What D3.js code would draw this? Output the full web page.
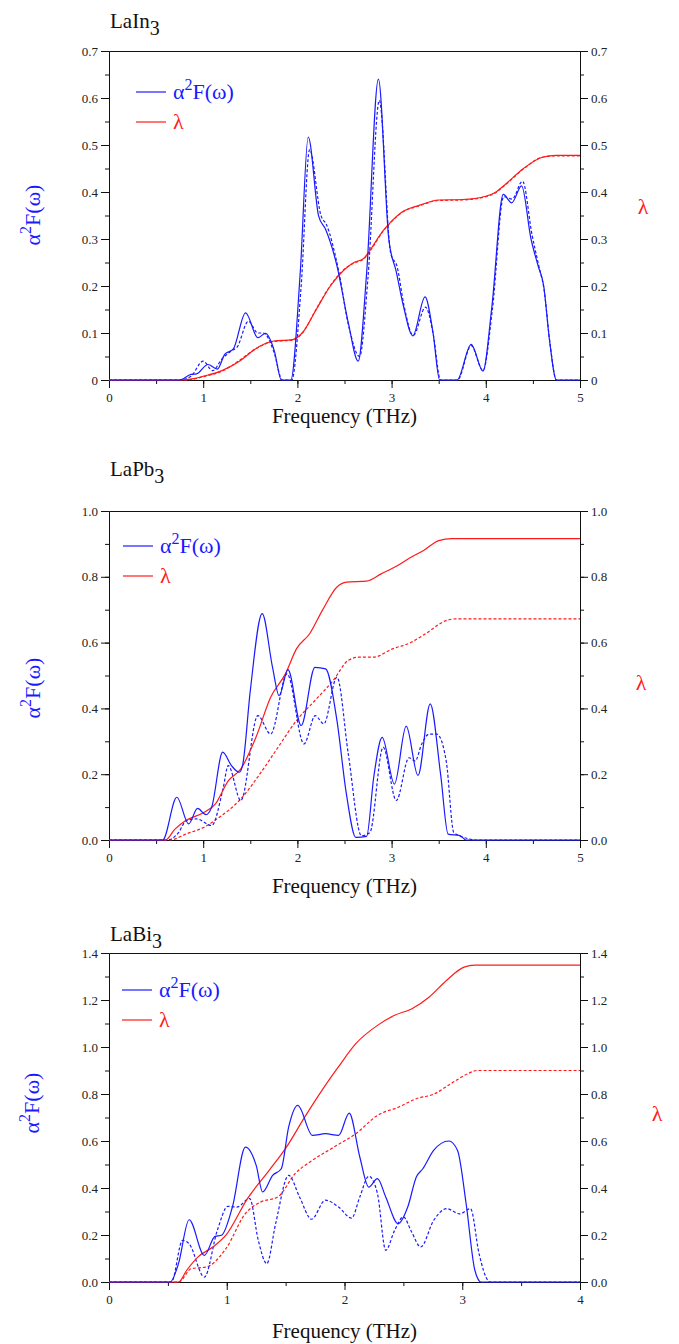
<!DOCTYPE html>
<html>
<head>
<meta charset="utf-8">
<script src="https://cdn.jsdelivr.net/npm/d3@7"></script>
<style>
  body { margin: 0; background: #fff; }
  svg, svg text { font-family: "Liberation Serif", "DejaVu Serif", serif !important; }
  .axis path, .axis line { stroke: #111; }
  .axis text { fill: #222; }
</style>
</head>
<body>
<div id="chart-area"></div>
<script>
// ---- data (frequency THz, value) ----
// LaIn3
const inA2F = [[0,0],[0.75,0],[0.87,0.012],[0.93,0.013],[1.05,0.033],[1.15,0.023],[1.23,0.055],[1.32,0.066],[1.45,0.143],[1.58,0.09],[1.66,0.099],[1.755,0.062],[1.83,0],[1.93,0],[2.03,0.228],[2.115,0.517],[2.225,0.349],[2.30,0.32],[2.42,0.243],[2.54,0.122],[2.645,0.04],[2.735,0.228],[2.86,0.64],[2.97,0.30],[3.05,0.23],[3.125,0.158],[3.225,0.094],[3.355,0.177],[3.44,0.10],[3.51,0],[3.695,0],[3.845,0.076],[3.97,0.019],[4.065,0.157],[4.185,0.395],[4.275,0.377],[4.38,0.413],[4.48,0.30],[4.555,0.243],[4.615,0.2],[4.675,0.087],[4.75,0],[5,0]];
const inA2Fd = [[0,0],[0.76,0],[0.87,0.008],[1.0,0.04],[1.1,0.02],[1.2,0.045],[1.3,0.062],[1.36,0.07],[1.48,0.125],[1.58,0.1],[1.64,0.1],[1.75,0.06],[1.84,0],[1.94,0],[2.04,0.2],[2.13,0.49],[2.25,0.35],[2.31,0.33],[2.43,0.24],[2.55,0.11],[2.66,0.05],[2.75,0.22],[2.87,0.595],[2.99,0.27],[3.06,0.24],[3.13,0.16],[3.23,0.095],[3.36,0.155],[3.44,0.1],[3.52,0],[3.70,0],[3.845,0.073],[3.97,0.02],[4.07,0.15],[4.19,0.39],[4.28,0.385],[4.39,0.423],[4.49,0.31],[4.56,0.245],[4.62,0.19],[4.68,0.08],[4.75,0],[5,0]];
const inLam = [[0,0],[0.75,0],[0.9,0.003],[1.0,0.008],[1.2,0.02],[1.4,0.042],[1.5,0.058],[1.6,0.072],[1.75,0.083],[1.95,0.086],[2.05,0.1],[2.2,0.15],[2.35,0.2],[2.5,0.235],[2.6,0.25],[2.7,0.258],[2.8,0.285],[2.9,0.315],[3.0,0.338],[3.1,0.356],[3.3,0.372],[3.5,0.383],[3.75,0.384],[4.0,0.391],[4.1,0.399],[4.2,0.415],[4.4,0.45],[4.6,0.474],[4.75,0.478],[5,0.478]];
const inLamD = [[0,0],[0.76,0],[0.9,0.002],[1.0,0.007],[1.2,0.019],[1.4,0.044],[1.5,0.059],[1.6,0.071],[1.75,0.082],[1.95,0.085],[2.05,0.099],[2.2,0.151],[2.35,0.201],[2.5,0.236],[2.6,0.249],[2.7,0.257],[2.8,0.283],[2.9,0.314],[3.0,0.337],[3.1,0.355],[3.3,0.371],[3.5,0.382],[3.75,0.383],[4.0,0.39],[4.1,0.398],[4.2,0.414],[4.4,0.449],[4.6,0.474],[4.75,0.477],[5,0.477]];

// LaPb3
const pbA2F = [[0,0],[0.57,0],[0.72,0.13],[0.846,0.049],[0.94,0.096],[1.03,0.077],[1.09,0.1],[1.207,0.267],[1.30,0.226],[1.383,0.206],[1.42,0.23],[1.50,0.454],[1.626,0.688],[1.736,0.525],[1.806,0.439],[1.90,0.518],[2.04,0.348],[2.186,0.525],[2.30,0.52],[2.42,0.363],[2.52,0.14],[2.62,0.008],[2.735,0.011],[2.81,0.19],[2.90,0.312],[3.03,0.17],[3.155,0.346],[3.28,0.196],[3.41,0.414],[3.52,0.2],[3.60,0.018],[3.73,0.013],[3.79,0],[5,0]];
const pbA2Fd = [[0,0],[0.62,0],[0.74,0.023],[0.82,0.059],[0.93,0.064],[1.09,0.044],[1.21,0.155],[1.266,0.226],[1.40,0.12],[1.58,0.378],[1.716,0.322],[1.89,0.505],[2.07,0.292],[2.19,0.378],[2.28,0.353],[2.42,0.495],[2.54,0.262],[2.68,0.013],[2.77,0.023],[2.91,0.282],[3.05,0.12],[3.185,0.25],[3.25,0.24],[3.32,0.292],[3.40,0.322],[3.48,0.322],[3.58,0.24],[3.66,0.023],[3.83,0.003],[3.89,0],[5,0]];
const pbLam = [[0,0],[0.6,0],[0.70,0.033],[0.815,0.059],[1.01,0.084],[1.13,0.11],[1.266,0.18],[1.40,0.216],[1.56,0.312],[1.716,0.434],[1.873,0.505],[1.99,0.581],[2.13,0.627],[2.265,0.698],[2.42,0.769],[2.52,0.784],[2.735,0.787],[2.89,0.809],[3.05,0.832],[3.21,0.86],[3.34,0.88],[3.50,0.91],[3.64,0.916],[5,0.916]];
const pbLamD = [[0,0],[0.65,0],[0.815,0.018],[1.01,0.039],[1.17,0.069],[1.40,0.125],[1.60,0.2],[1.795,0.282],[1.99,0.363],[2.186,0.424],[2.38,0.485],[2.54,0.546],[2.66,0.556],[2.81,0.556],[3.01,0.581],[3.21,0.601],[3.36,0.627],[3.60,0.669],[3.68,0.672],[5,0.672]];

// LaBi3
const biA2F = [[0,0],[0.52,0],[0.59,0.078],[0.68,0.265],[0.81,0.113],[0.90,0.194],[0.956,0.199],[1.048,0.319],[1.158,0.574],[1.25,0.496],[1.305,0.383],[1.39,0.454],[1.463,0.482],[1.526,0.66],[1.603,0.752],[1.728,0.624],[1.838,0.631],[1.95,0.624],[2.04,0.719],[2.13,0.532],[2.206,0.404],[2.28,0.44],[2.35,0.362],[2.456,0.248],[2.537,0.319],[2.61,0.447],[2.665,0.482],[2.757,0.56],[2.886,0.6],[2.96,0.56],[3.033,0.333],[3.107,0.05],[3.16,0],[4,0]];
const biA2Fd = [[0,0],[0.53,0],[0.625,0.177],[0.68,0.163],[0.81,0.021],[0.92,0.22],[1.01,0.322],[1.085,0.319],[1.195,0.355],[1.268,0.177],[1.34,0.078],[1.415,0.248],[1.526,0.454],[1.618,0.362],[1.72,0.267],[1.838,0.348],[1.95,0.319],[2.06,0.272],[2.13,0.362],[2.206,0.45],[2.28,0.376],[2.35,0.135],[2.426,0.22],[2.5,0.277],[2.57,0.213],[2.647,0.149],[2.757,0.262],[2.868,0.312],[2.978,0.29],[3.07,0.312],[3.143,0.12],[3.217,0.007],[3.235,0],[4,0]];
const biLam = [[0,0],[0.59,0],[0.66,0.05],[0.754,0.106],[0.882,0.149],[0.993,0.199],[1.176,0.355],[1.36,0.475],[1.507,0.574],[1.654,0.695],[1.80,0.809],[1.948,0.915],[2.096,1.014],[2.28,1.092],[2.426,1.135],[2.573,1.163],[2.72,1.213],[2.868,1.284],[3.015,1.34],[3.107,1.348],[4,1.348]];
const biLamD = [[0,0],[0.59,0],[0.70,0.057],[0.827,0.064],[0.993,0.142],[1.158,0.291],[1.287,0.34],[1.434,0.362],[1.58,0.461],[1.728,0.518],[1.91,0.574],[2.096,0.631],[2.28,0.709],[2.463,0.745],[2.61,0.78],[2.757,0.799],[2.904,0.844],[3.05,0.887],[3.125,0.9],[4,0.9]];

// tick labels
const xTicks5 = [0, 1, 2, 3, 4, 5];
const xTicks4 = [0, 1, 2, 3, 4];
const yTicksIn = [0, 0.1, 0.2, 0.3, 0.4, 0.5, 0.6, 0.7];
const yTicksPb = [0, 0.2, 0.4, 0.6, 0.8, 1.0];
const yTicksBi = [0, 0.2, 0.4, 0.6, 0.8, 1.0, 1.2, 1.4];

const blue = "#1a1aff";
const red = "#ff1a1a";

const width = 679, height = 1344;
const svg = d3.select("#chart-area").append("svg")
    .attr("width", width)
    .attr("height", height);

const panels = [
    { name: "LaIn", top: 51, bottom: 380, xmax: 5, ymax: 0.7, xTicks: xTicks5, yTicks: yTicksIn,
      xMinor: 0.5, yMinor: 0.05, fmt: d => d === 0 ? "0" : d.toFixed(1),
      a2f: inA2F, a2fd: inA2Fd, lam: inLam, lamd: inLamD,
      titleY: 28, legX: 136, legY: 92, yLabY: 215, yLabX: 40, lamX: 643, lamY: 214, freqY: 423 },
    { name: "LaPb", top: 511, bottom: 840, xmax: 5, ymax: 1.0, xTicks: xTicks5, yTicks: yTicksPb,
      xMinor: 0.5, yMinor: 0.1, fmt: d => d.toFixed(1),
      a2f: pbA2F, a2fd: pbA2Fd, lam: pbLam, lamd: pbLamD,
      titleY: 476, legX: 123, legY: 546, yLabY: 688, yLabX: 40, lamX: 641, lamY: 690, freqY: 893 },
    { name: "LaBi", top: 953, bottom: 1282, xmax: 4, ymax: 1.4, xTicks: xTicks4, yTicks: yTicksBi,
      xMinor: 0.5, yMinor: 0.1, fmt: d => d.toFixed(1),
      a2f: biA2F, a2fd: biA2Fd, lam: biLam, lamd: biLamD,
      titleY: 941, legX: 122, legY: 990, yLabY: 1103, yLabX: 39, lamX: 657, lamY: 1121, freqY: 1338 }
];

const left = 109, right = 580;

panels.forEach(p => {
    const x = d3.scaleLinear().domain([0, p.xmax]).range([left, right]);
    const y = d3.scaleLinear().domain([0, p.ymax]).range([p.bottom, p.top]);

    const g = svg.append("g");

    const xMinorVals = d3.range(0, p.xmax + 1e-9, p.xMinor);
    const yMinorVals = d3.range(0, p.ymax + 1e-9, p.yMinor);

    const addAxis = (axis, tx, ty) => g.append("g").attr("class", "axis")
        .attr("transform", `translate(${tx}, ${ty})`)
        .call(axis)
        .attr("font-size", 13);

    // minor ticks
    addAxis(d3.axisBottom(x).tickValues(xMinorVals).tickSize(4).tickSizeOuter(0).tickFormat(""), 0, p.bottom);
    addAxis(d3.axisLeft(y).tickValues(yMinorVals).tickSize(4).tickSizeOuter(0).tickFormat(""), left, 0);
    addAxis(d3.axisRight(y).tickValues(yMinorVals).tickSize(4).tickSizeOuter(0).tickFormat(""), right, 0);

    // major ticks
    addAxis(d3.axisBottom(x).tickValues(p.xTicks).tickSize(8).tickSizeOuter(0).tickPadding(5).tickFormat(d3.format("d")), 0, p.bottom);
    addAxis(d3.axisLeft(y).tickValues(p.yTicks).tickSize(8).tickSizeOuter(0).tickPadding(3).tickFormat(p.fmt), left, 0);
    addAxis(d3.axisRight(y).tickValues(p.yTicks).tickSize(8).tickSizeOuter(0).tickPadding(3).tickFormat(p.fmt), right, 0);
    addAxis(d3.axisTop(x).tickValues([]).tickSizeOuter(0), 0, p.top);

    // curves
    const line = d3.line()
        .x(d => x(d[0]))
        .y(d => y(d[1]))
        .curve(d3.curveMonotoneX);

    const series = [
        { data: p.lamd, color: red, dash: "3,2" },
        { data: p.a2fd, color: blue, dash: "3,2" },
        { data: p.lam, color: red, dash: null },
        { data: p.a2f, color: blue, dash: null }
    ];
    series.forEach(s => {
        g.append("path")
            .datum(s.data)
            .attr("fill", "none")
            .attr("stroke", s.color)
            .attr("stroke-width", 1.2)
            .attr("stroke-dasharray", s.dash)
            .attr("d", line);
    });

    // title with subscript
    const title = g.append("text")
        .attr("x", 110)
        .attr("y", p.titleY)
        .attr("font-size", 21)
        .attr("fill", "#111");
    title.append("tspan").text(p.name);
    title.append("tspan").attr("dy", 7).attr("font-size", 20).text("3");

    // legend
    g.append("line")
        .attr("x1", p.legX).attr("x2", p.legX + 30)
        .attr("y1", p.legY).attr("y2", p.legY)
        .attr("stroke", blue).attr("stroke-width", 1.2);
    const lt = g.append("text")
        .attr("x", p.legX + 37)
        .attr("y", p.legY + 7)
        .attr("font-size", 22)
        .attr("fill", blue);
    lt.append("tspan").text("α");
    lt.append("tspan").attr("dy", -9).attr("font-size", 16).text("2");
    lt.append("tspan").attr("dy", 9).text("F(ω)");

    g.append("line")
        .attr("x1", p.legX).attr("x2", p.legX + 30)
        .attr("y1", p.legY + 30).attr("y2", p.legY + 30)
        .attr("stroke", red).attr("stroke-width", 1.2);
    g.append("text")
        .attr("x", p.legX + 37)
        .attr("y", p.legY + 37)
        .attr("font-size", 22)
        .attr("fill", red)
        .text("λ");

    // axis labels
    g.append("text")
        .attr("x", (left + right) / 2)
        .attr("y", p.freqY)
        .attr("text-anchor", "middle")
        .attr("font-size", 21)
        .attr("fill", "#111")
        .text("Frequency (THz)");

    const yl = g.append("text")
        .attr("transform", `translate(${p.yLabX}, ${p.yLabY}) rotate(-90)`)
        .attr("text-anchor", "middle")
        .attr("font-size", 22)
        .attr("fill", blue);
    yl.append("tspan").text("α");
    yl.append("tspan").attr("dy", -9).attr("font-size", 16).text("2");
    yl.append("tspan").attr("dy", 9).text("F(ω)");

    g.append("text")
        .attr("x", p.lamX)
        .attr("y", p.lamY)
        .attr("text-anchor", "middle")
        .attr("font-size", 22)
        .attr("fill", red)
        .text("λ");
});
</script>
</body>
</html>
